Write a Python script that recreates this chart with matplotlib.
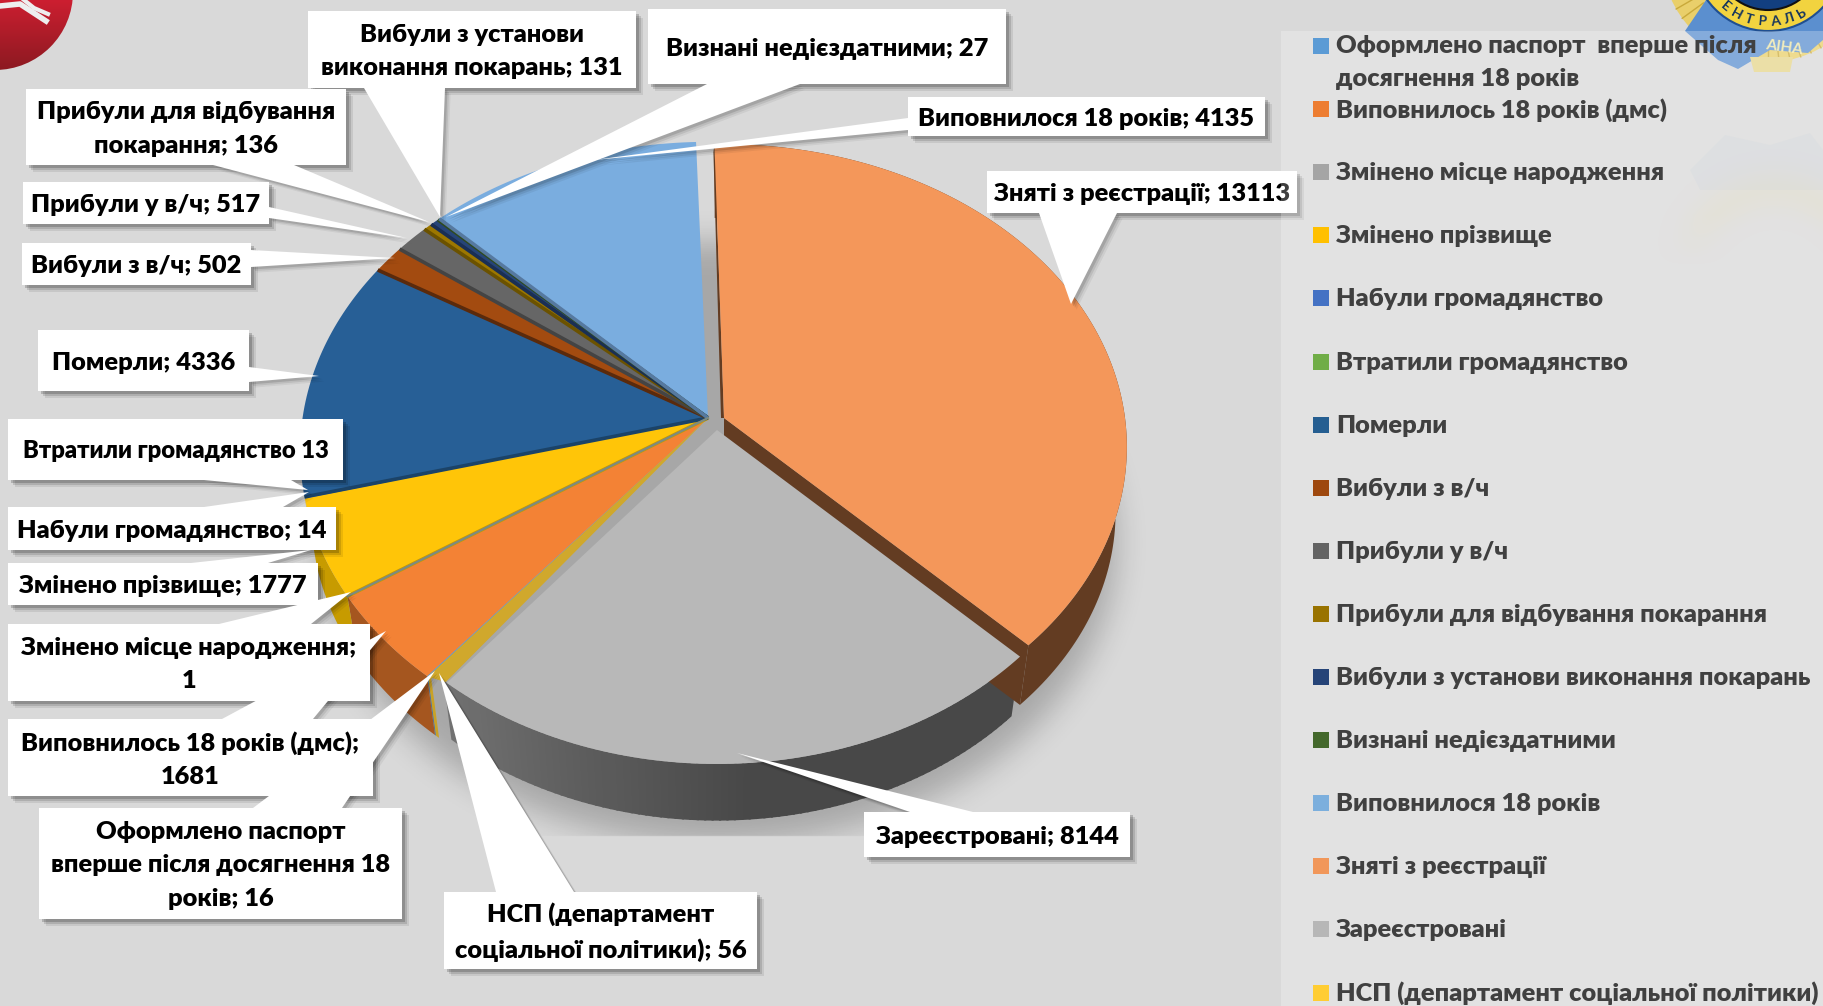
import numpy as np
import matplotlib
matplotlib.use('Agg')
import matplotlib.pyplot as plt
from matplotlib.path import Path
from matplotlib.patches import Polygon, Rectangle, Circle

plt.rcParams['font.family'] = ['Lato', 'Noto Sans', 'DejaVu Sans']

# Chart data
categories = ['Оформлено паспорт  вперше після\nдосягнення 18 років', 'Виповнилось 18 років (дмс)',
              'Змінено місце народження', 'Змінено прізвище', 'Набули громадянство',
              'Втратили громадянство', 'Померли', 'Вибули з в/ч', 'Прибули у в/ч',
              'Прибули для відбування покарання', 'Вибули з установи виконання покарань',
              'Визнані недієздатними', 'Виповнилося 18 років', 'Зняті з реєстрації',
              'Зареєстровані', 'НСП (департамент соціальної політики)']
values = [16, 1681, 1, 1777, 14, 13, 4336, 502, 517, 136, 131, 27, 4135, 13113, 8144, 56]
legend_colors = ['#5b9bd5', '#ed7d31', '#a5a5a5', '#ffc000', '#4472c4', '#70ad47', '#255e91',
                 '#9e480e', '#636363', '#997300', '#264478', '#43682b', '#7cafdd', '#f1975a',
                 '#b7b7b7', '#ffcd33']
top_colors = ['#5b9bd5', '#f38235', '#a5a5a5', '#ffc508', '#4472c4', '#70ad47', '#275f96',
              '#a34b10', '#666666', '#9c7700', '#264478', '#43682b', '#7aaddf', '#f4975a',
              '#b8b8b8', '#d0a82c']
wall_colors = ['#3f6f9c', '#a5561f', '#777777', '#c79b00', '#2f5090', '#4f7a32', '#1b4368',
               '#5a2a0c', '#444444', '#6b5200', '#1a2f54', '#2f4a1e', '#5679a0', '#633c22',
               '#4a4a4a', '#c9a227']

# Labels of the callouts, with the box and the tail (two base points and the tip)
callouts = [
    ('Оформлено паспорт\nвперше після досягнення 18\nроків; 16', (39, 808, 402, 919), [(253, 808), (342, 808), (435, 671)]),
    ('Виповнилось 18 років (дмс);\n1681', (8, 719, 373, 796), [(222, 719), (313, 719), (386, 631)]),
    ('Змінено місце народження;\n1', (8, 624, 370, 701), [(219, 624), (311, 624), (351, 592)]),
    ('Змінено прізвище; 1777', (8, 563, 318, 605), [(191, 563), (268, 563), (311, 550)]),
    ('Набули громадянство; 14', (8, 507, 336, 550), [(204, 507), (283, 507), (309, 492)]),
    ('Втратили громадянство 13', (8, 419, 343, 480), [(204, 480), (291, 480), (308, 490)]),
    ('Померли; 4336', (38, 330, 249, 391), [(249, 367), (249, 382), (319, 376)]),
    ('Вибули з в/ч; 502', (22, 243, 251, 285), [(251, 250), (251, 267), (395, 258)]),
    ('Прибули у в/ч; 517', (23, 182, 269, 224), [(269, 207), (269, 218), (407, 238)]),
    ('Прибули для відбування\nпокарання; 136', (26, 89, 346, 165), [(213, 165), (294, 165), (429, 222)]),
    ('Вибули з установи\nвиконання покарань; 131', (308, 11, 636, 88), [(364, 88), (445, 88), (440, 217)]),
    ('Визнані недієздатними; 27', (648, 9, 1006, 84), [(707, 84), (800, 84), (446, 217)]),
    ('Виповнилося 18 років; 4135', (908, 97, 1265, 136), [(908, 118), (908, 130), (594, 160)]),
    ('Зняті з реєстрації; 13113', (987, 171, 1297, 213), [(1039, 213), (1117, 213), (1071, 304)]),
    ('Зареєстровані; 8144', (864, 812, 1130, 857), [(910, 812), (973, 812), (737, 753)]),
    ('НСП (департамент\nсоціальної політики); 56', (444, 892, 757, 969), [(496, 892), (574, 892), (439, 673)]),
]

LABEL_SIZE = 18.3
LEGEND_SIZE = 18.3
WEIGHT = 'heavy'

fig = plt.figure(figsize=(18.23, 10.06), dpi=100, facecolor='#d9d9d9')
ax = fig.add_axes([0, 0, 1, 1])
ax.set_facecolor('#d9d9d9')
ax.axis('off')

# Projection of the pie, one set of parameters for each part
base = dict(cx=709, cy=422, a=407, b=307, rot=0)
orange = dict(cx=724, cy=418, a=401, b=300, rot=0.5)
grey = dict(cx=717, cy=430, a=396, b=302, rot=0)
K = 0.0957
SHRINK = 0.972
DEPTH = 66


def rim(angle, p, lower=False):
    # angle in degrees, clockwise from 12 o'clock
    t = np.radians(angle + p['rot'])
    u, v = np.sin(t), np.cos(t)
    d = 1 + K * v
    x, y = p['a'] * u / d, -p['b'] * v / d
    if lower:
        return p['cx'] + SHRINK * x, p['cy'] + SHRINK * y + DEPTH
    return p['cx'] + x, p['cy'] + y


def arc(a0, a1, p, lower=False):
    n = max(2, int(abs(a1 - a0)) + 2)
    xs, ys = rim(np.linspace(a0, a1, n), p, lower)
    return np.column_stack([xs, ys])


# Angles from the values; the order on the pie starts at the large orange slice
total = sum(values)
spans = [v / total * 360 for v in values]
start = -2.0
order = [13, 14, 15, 0, 1, 2, 3, 4, 5, 6, 7, 8, 9, 10, 11, 12]
angles = {}
cur = start
for i in order:
    angles[i] = (cur, cur + spans[i])
    cur += spans[i]

params = {i: base for i in order}
params[13] = orange
params[14] = grey
apex = {i: (708, 418) for i in order}
apex[13] = (724, 418)
apex[14] = (717, 430)

# Soft shadow under the pie, cut off by a rectangle as in the original
gx, gy = np.meshgrid(np.arange(0, 1823, 2) + 1.0, np.arange(0, 1006, 2) + 1.0)
outline = arc(0, 360, base, True) + [10, 26]
mask = Path(outline).contains_points(np.column_stack([gx.ravel(), gy.ravel()])).reshape(gx.shape).astype(float)
kernel = np.ones(15) / 15
for _ in range(3):
    mask = np.apply_along_axis(lambda r: np.convolve(r, kernel, mode='same'), 0, mask)
    mask = np.apply_along_axis(lambda r: np.convolve(r, kernel, mode='same'), 1, mask)
mask[(gx > 1150) | (gy < 190) | (gy > 835)] = 0
shadow = np.zeros(mask.shape + (4,))
shadow[..., 3] = mask * 0.23
ax.imshow(shadow, extent=(0, 1823, 1006, 0), aspect='auto', zorder=1)

# Outer walls, shaded grey one goes lighter to the left
for i in [13, 14, 15, 0, 1, 2, 3]:
    a0, a1 = angles[i]
    p = params[i]
    if i == 14:
        edges = np.arange(a0, a1 + 1, 1.0)
        for e0, e1 in zip(edges[:-1], edges[1:]):
            f = np.clip((e0 - 175) / (a1 - 175), 0, 1)
            g = 0x48 + f * 0x2a
            col = (g / 255, g / 255, g / 255)
            poly = np.vstack([arc(e0, e1 + 0.3, p), arc(e0, e1 + 0.3, p, True)[::-1]])
            ax.add_patch(Polygon(poly, fc=col, ec='none', zorder=3))
    else:
        poly = np.vstack([arc(a0, a1, p), arc(a0, a1, p, True)[::-1]])
        ax.add_patch(Polygon(poly, fc=wall_colors[i], ec='none', zorder=3))

# Cut face of the pulled out slice
end_top = rim(angles[13][1], orange)
end_low = rim(angles[13][1], orange, True)
ax.add_patch(Polygon([apex[13], end_top, end_low, (apex[13][0], apex[13][1] + DEPTH)],
                     fc=wall_colors[13], ec='none', zorder=4))
top_left = rim(angles[13][0], orange)
ax.add_patch(Polygon([apex[13], top_left, (top_left[0] - 1, top_left[1] + 8), (apex[13][0] - 3, apex[13][1])],
                     fc=wall_colors[13], ec='none', zorder=4))

# Top faces
for i in order:
    a0, a1 = angles[i]
    p = params[i]
    poly = np.vstack([[apex[i]], arc(a0, a1, p)])
    z = 6 if i == 14 else 5
    ax.add_patch(Polygon(poly, fc=top_colors[i], ec='none', zorder=z))

# Gold strip between the grey slice and the rest
a0, a1 = angles[15]
ax.add_patch(Polygon([apex[15], rim(a1, base), rim(a0 + 0.2, grey)], fc=top_colors[15], ec='none', zorder=6))

# Dark bands between the small slices
for i in [3, 6, 7, 8, 9, 10, 11, 12]:
    a0 = angles[i][0]
    xr, yr = rim(a0, base)
    ax.plot([apex[i][0], xr], [apex[i][1], yr], color=wall_colors[i], lw=2.6, zorder=7, solid_capstyle='butt')
xr, yr = rim(angles[1][1], base)
ax.plot([apex[1][0], xr], [apex[1][1], yr], color='#7d8a80', lw=1.6, zorder=7)

# Logo top left
fade = np.linspace(0, 1, 80)[:, None, None]
grad = fade * np.array([[[0.55, 0.1, 0.13]]]) + (1 - fade) * np.array([[[0.8, 0.12, 0.19]]])
logo = ax.imshow(grad, extent=(0, 75, 70, 0), aspect='auto', zorder=2)
logo.set_clip_path(Circle((-5, -8), 78, transform=ax.transData))
ax.plot([0, 20, 46], [6, 4, 21], color='#eeeeee', lw=4, zorder=2.1)
ax.plot([24, 34, 48], [0, 8, 14], color='#eeeeee', lw=3, zorder=2.1)

# Emblem top right
ax.add_patch(Circle((1768, -44), 106, fc='#e9cf6a', ec='none', zorder=1.5))
for t in np.radians(np.arange(0, 180, 6)):
    ax.plot([1768 + 80 * np.cos(t), 1768 + 106 * np.cos(t)],
            [-44 + 80 * np.sin(t), -44 + 106 * np.sin(t)], color='#c9a93a', lw=1, zorder=1.6)
ax.add_patch(Polygon([(1685, 31), (1706, 0), (1823, 0), (1823, 40), (1808, 53), (1770, 50), (1738, 69), (1718, 60)],
                     fc='#5b8fcf', ec='none', zorder=1.7))
ax.add_patch(Circle((1768, -44), 75, fc='#f2d33f', ec='#1f4f91', lw=1.5, zorder=1.8))
ax.add_patch(Circle((1768, -44), 54, fc='#123f80', ec='#111111', lw=1.5, zorder=1.9))
for n, ch in enumerate('ЕНТРАЛЬ'):
    phi = -40 + 11.7 * n
    t = np.radians(phi)
    ax.text(1768 + 66 * np.sin(t), -44 + 66 * np.cos(t), ch, rotation=phi, ha='center', va='center',
            fontsize=10, color='#17365d', fontweight='bold', zorder=2)
ax.add_patch(Polygon([(1750, 57), (1793, 57), (1790, 72), (1754, 72)], fc='#e5d58a', ec='none', zorder=1.9))
ax.text(1784, 48, 'АІНА', color='#efe7a8', fontsize=11, fontweight='bold', ha='center', va='center', rotation=-8, zorder=2)

# Faint copy of the emblem behind the legend
ax.add_patch(Polygon([(1690, 170), (1725, 135), (1770, 145), (1810, 133), (1823, 150), (1823, 190), (1700, 190)],
                     fc='#8fb0d8', ec='none', alpha=0.09, zorder=1.5))
wy, wx = np.mgrid[120:300, 1640:1823]
ring = np.exp(-((np.hypot(wx - 1775, wy - 275) - 85) / 22.0) ** 2) * np.clip((265 - wy) / 50.0, 0, 1)
wm = np.zeros(ring.shape + (4,))
wm[..., :3] = (0.9, 0.82, 0.5)
wm[..., 3] = ring * 0.14
ax.imshow(wm, extent=(1640, 1823, 300, 120), aspect='auto', zorder=1.5)

# Callouts
for n, (text, box, tail) in enumerate(callouts):
    x0, y0, x1, y1 = box
    z = 10 + n * 0.01
    for off, al in [(7, 0.08), (5, 0.12), (3, 0.18)]:
        ax.add_patch(Rectangle((x0 + off, y0 + off), x1 - x0, y1 - y0, fc='black', ec='none', alpha=al, zorder=z))
        ax.add_patch(Polygon(np.array(tail) + off * 0.8, fc='black', ec='none', alpha=al * 0.7, zorder=z))
for text, box, tail in callouts:
    ax.add_patch(Polygon(tail, fc='white', ec='none', zorder=11))
for text, box, tail in callouts:
    x0, y0, x1, y1 = box
    ax.add_patch(Rectangle((x0, y0), x1 - x0, y1 - y0, fc='white', ec='none', zorder=12))
    size = LABEL_SIZE - 1.2 if text.startswith('Втратили') else LABEL_SIZE
    ax.text((x0 + x1) / 2, (y0 + y1) / 2 + 2, text, ha='center', va='center', fontsize=size, fontweight=WEIGHT,
            color='black', linespacing=1.62, zorder=13)

# Legend panel sits over everything and lightens it
ax.add_patch(Rectangle((1281, 31), 542, 975, fc='white', ec='none', alpha=0.25, zorder=20))
for i, (name, col) in enumerate(zip(categories, legend_colors)):
    yc = 46 + 63.1 * i
    ax.add_patch(Rectangle((1313, yc - 8), 16, 16, fc=col, ec='none', zorder=21))
    if '\n' in name:
        ax.text(1336, yc - 11, name, ha='left', va='top', fontsize=LEGEND_SIZE, fontweight=WEIGHT,
                color='#404040', linespacing=1.62, zorder=21)
    else:
        ax.text(1336, yc + 1, name, ha='left', va='center', fontsize=LEGEND_SIZE, fontweight=WEIGHT,
                color='#404040', zorder=21)

ax.set_xlim(0, 1823)
ax.set_ylim(1006, 0)
fig.savefig('out.png', dpi=100, facecolor=fig.get_facecolor())
